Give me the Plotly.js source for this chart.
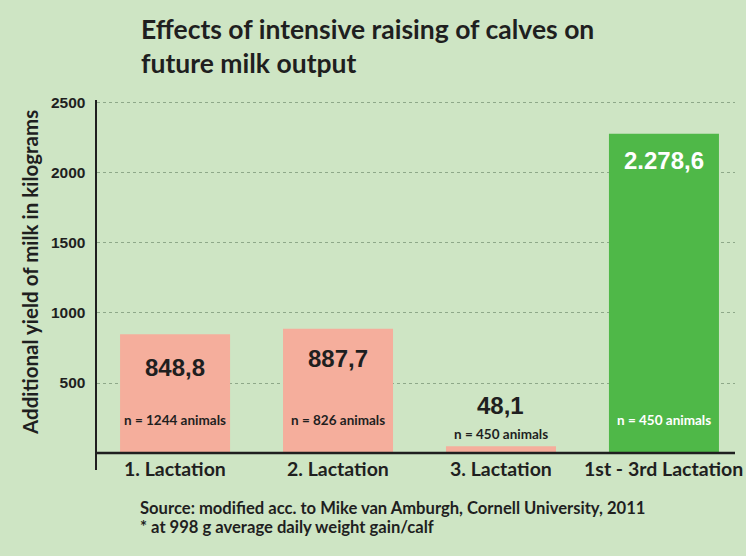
<!DOCTYPE html>
<html>
<head>
<meta charset="utf-8">
<script src="https://cdn.plot.ly/plotly-3.0.1.min.js"></script>
<style>html,body{margin:0;padding:0;background:#cee5c4;}#chart{width:746px;height:556px;}</style>
</head>
<body>
<div id="chart"></div>
<script>
// ---- data ----
const categories = ["1. Lactation", "2. Lactation", "3. Lactation", "1st - 3rd Lactation"];
const values = [848.8, 887.7, 48.1, 2278.6];
const valueLabels = ["848,8", "887,7", "48,1", "2.278,6"];
const sampleLabels = ["n = 1244 animals", "n = 826 animals", "n = 450 animals", "n = 450 animals"];
const yTicks = [500, 1000, 1500, 2000, 2500];
const yTickLabels = ["500", "1000", "1500", "2000", "2500"];
const noteLines = [
  "Source: modified acc. to Mike van Amburgh, Cornell University, 2011",
  "* at 998 g average daily weight gain/calf"
];

// ---- style ----
const BG = "#cee5c4";
const INK = "#1f1f1f";
const barColors = ["#f5ae9c", "#f5ae9c", "#f5ae9c", "#4fb848"];
const valueColors = [INK, INK, INK, "#ffffff"];
const valueShift = [-33, -30, 41, -27];     // px offset of value label from bar top
const sampleShift = [33, 33, 19, 33];       // px offset of sample label from baseline
const sampleColors = [INK, INK, INK, "#ffffff"];
const noteShift = [-38, -57];
const xIdx = categories.map((c, i) => i);

const annotations = [];
xIdx.forEach(i => {
  annotations.push({
    x: i, y: values[i], xref: "x", yref: "y", text: "<b>" + valueLabels[i] + "</b>",
    showarrow: false, yshift: valueShift[i], yanchor: "middle",
    font: {family: "Liberation Sans, Arial, sans-serif", size: 24, color: valueColors[i]}
  });
  annotations.push({
    x: i, y: 0, xref: "x", yref: "y", text: "<b>" + sampleLabels[i] + "</b>",
    showarrow: false, yshift: sampleShift[i], yanchor: "middle",
    font: {family: "Lato, sans-serif", size: 13.5, color: sampleColors[i]}
  });
  annotations.push({
    x: i, y: 0, xref: "x", yref: "y", text: "<b>" + categories[i] + "</b>",
    showarrow: false, yshift: -2, yanchor: "top",
    font: {family: "Lato, sans-serif", size: 19.5, color: INK}
  });
});
// y-axis title
annotations.push({
  x: 0, y: 0.5, xref: "paper", yref: "paper", xanchor: "center", yanchor: "middle",
  xshift: -67, yshift: 12, textangle: -90, showarrow: false,
  text: "<b>Additional yield of milk in kilograms</b>",
  font: {family: "Lato, sans-serif", size: 20.5, color: INK}
});
// chart title
annotations.push({
  x: 0, y: 1, xref: "paper", yref: "paper", xanchor: "left", yanchor: "top",
  xshift: 42, yshift: 89, align: "left", showarrow: false,
  text: "<b>Effects of intensive raising of calves on<br>future milk output</b>",
  font: {family: "Lato, sans-serif", size: 26.5, color: INK}
});
// source notes
noteLines.forEach((t, k) => {
  annotations.push({
    x: 0, y: 0, xref: "paper", yref: "paper", xanchor: "left", yanchor: "middle",
    xshift: 41, yshift: noteShift[k], align: "left", showarrow: false,
    text: "<b>" + t + "</b>",
    font: {family: "Lato, sans-serif", size: 16.6, color: INK}
  });
});

const trace = {
  type: "bar", x: xIdx, y: values, width: 0.675,
  marker: {color: barColors, line: {width: 0}},
  hoverinfo: "skip"
};

const layout = {
  width: 746, height: 556,
  paper_bgcolor: BG, plot_bgcolor: BG,
  margin: {l: 97, r: 11, t: 100, b: 86},
  showlegend: false,
  xaxis: {
    range: [-0.479, 3.436], showticklabels: false, showgrid: false, zeroline: false,
    showline: false, ticks: "", fixedrange: true
  },
  yaxis: {
    range: [-121, 2520], tickvals: yTicks, ticktext: yTickLabels,
    showgrid: true, gridcolor: "#8ea889", griddash: "dot", gridwidth: 1,
    zeroline: false, showline: true, linecolor: INK, linewidth: 2.5,
    ticks: "", ticklabelstandoff: 6,
    tickfont: {family: "Liberation Sans, Arial, sans-serif", size: 15.5, color: INK, weight: "bold"}
  },
  shapes: [{
    type: "line", xref: "paper", yref: "y", x0: 0, x1: 1, y0: 0, y1: 0,
    line: {color: INK, width: 2.5}
  }],
  annotations: annotations
};

Plotly.newPlot("chart", [trace], layout, {displayModeBar: false, staticPlot: true});
</script>
</body>
</html>
